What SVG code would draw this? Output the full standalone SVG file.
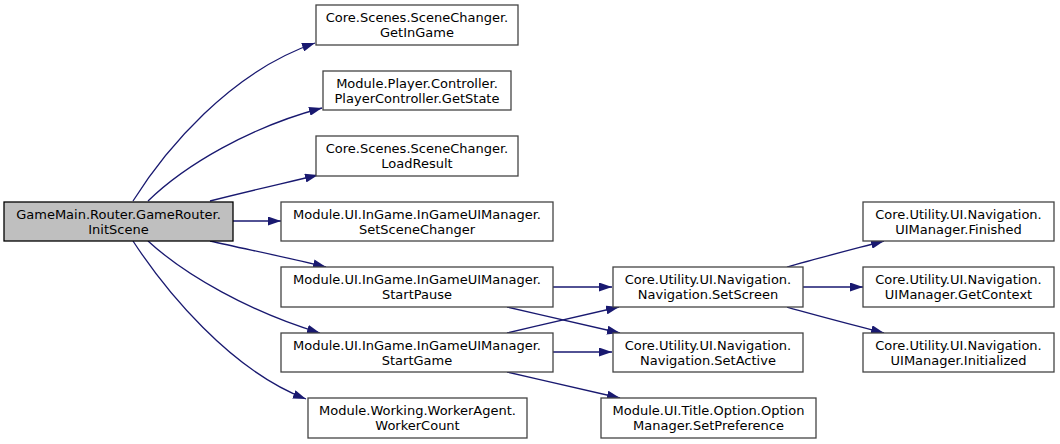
<svg xmlns="http://www.w3.org/2000/svg" width="1060" height="444" viewBox="0 0 1060 444">
<style>
.n rect{fill:#fff;stroke:#444;stroke-width:1.3}
.n.root rect{fill:#bfbfbf;stroke:#000}
text{font-family:"DejaVu Sans",sans-serif;font-size:13px;text-anchor:middle;fill:#000}
.e path{fill:none;stroke:#191970;stroke-width:1.3}
</style>
<defs>
<marker id="a" viewBox="0 0 13 9" refX="13" refY="4.5" markerWidth="13" markerHeight="9" markerUnits="userSpaceOnUse" orient="auto">
<polygon points="0,0 13,4.5 0,9" fill="#191970"/>
</marker>
</defs>
<rect width="1060" height="444" fill="#fff"/>
<g class="e">
<path d="M133,201 C165,150 230,72 315,43" marker-end="url(#a)"/>
<path d="M148,201 C185,165 250,127 322,108" marker-end="url(#a)"/>
<path d="M210,201 C245,192 285,183 318,175" marker-end="url(#a)"/>
<path d="M233,221 L281,221" marker-end="url(#a)"/>
<path d="M210,241 C245,249 290,258 326,267" marker-end="url(#a)"/>
<path d="M148,241 C185,275 250,312 320,333" marker-end="url(#a)"/>
<path d="M133,241 C165,290 230,370 306,399" marker-end="url(#a)"/>
<path d="M553,287 L612,287" marker-end="url(#a)"/>
<path d="M507,307 C545,316 585,325 620,333" marker-end="url(#a)"/>
<path d="M507,333 C545,324 585,315 619,307" marker-end="url(#a)"/>
<path d="M553,352 L612,352" marker-end="url(#a)"/>
<path d="M507,372 C545,381 585,390 620,398" marker-end="url(#a)"/>
<path d="M787,267 C815,259 850,250 884,241" marker-end="url(#a)"/>
<path d="M803,287 L863,287" marker-end="url(#a)"/>
<path d="M787,307 C815,315 850,324 884,333" marker-end="url(#a)"/>
</g>
<g id="root" class="n root"><rect x="4" y="202" width="229" height="39"/><text x="118.5" y="219">GameMain.Router.GameRouter.</text><text x="118.5" y="233.5">InitScene</text></g>
<g id="getingame" class="n"><rect x="316" y="5" width="202" height="40"/><text x="417" y="22">Core.Scenes.SceneChanger.</text><text x="417" y="36.5">GetInGame</text></g>
<g id="getstate" class="n"><rect x="323" y="71" width="188" height="39"/><text x="417" y="88">Module.Player.Controller.</text><text x="417" y="102.5">PlayerController.GetState</text></g>
<g id="loadresult" class="n"><rect x="316" y="136" width="202" height="40"/><text x="417" y="153">Core.Scenes.SceneChanger.</text><text x="417" y="167.5">LoadResult</text></g>
<g id="setscenechanger" class="n"><rect x="281" y="202" width="272" height="39"/><text x="417" y="219">Module.UI.InGame.InGameUIManager.</text><text x="417" y="233.5">SetSceneChanger</text></g>
<g id="startpause" class="n"><rect x="281" y="267" width="272" height="40"/><text x="417" y="284">Module.UI.InGame.InGameUIManager.</text><text x="417" y="298.5">StartPause</text></g>
<g id="startgame" class="n"><rect x="281" y="333" width="272" height="39"/><text x="417" y="350">Module.UI.InGame.InGameUIManager.</text><text x="417" y="364.5">StartGame</text></g>
<g id="workercount" class="n"><rect x="308" y="398" width="219" height="40"/><text x="417.5" y="415">Module.Working.WorkerAgent.</text><text x="417.5" y="429.5">WorkerCount</text></g>
<g id="setscreen" class="n"><rect x="613" y="267" width="190" height="40"/><text x="708" y="284">Core.Utility.UI.Navigation.</text><text x="708" y="298.5">Navigation.SetScreen</text></g>
<g id="setactive" class="n"><rect x="613" y="333" width="190" height="39"/><text x="708" y="350">Core.Utility.UI.Navigation.</text><text x="708" y="364.5">Navigation.SetActive</text></g>
<g id="setpreference" class="n"><rect x="601" y="398" width="215" height="40"/><text x="708.5" y="415">Module.UI.Title.Option.Option</text><text x="708.5" y="429.5">Manager.SetPreference</text></g>
<g id="finished" class="n"><rect x="863" y="202" width="191" height="39"/><text x="958.5" y="219">Core.Utility.UI.Navigation.</text><text x="958.5" y="233.5">UIManager.Finished</text></g>
<g id="getcontext" class="n"><rect x="863" y="267" width="191" height="40"/><text x="958.5" y="284">Core.Utility.UI.Navigation.</text><text x="958.5" y="298.5">UIManager.GetContext</text></g>
<g id="initialized" class="n"><rect x="863" y="333" width="191" height="39"/><text x="958.5" y="350">Core.Utility.UI.Navigation.</text><text x="958.5" y="364.5">UIManager.Initialized</text></g>
</svg>
